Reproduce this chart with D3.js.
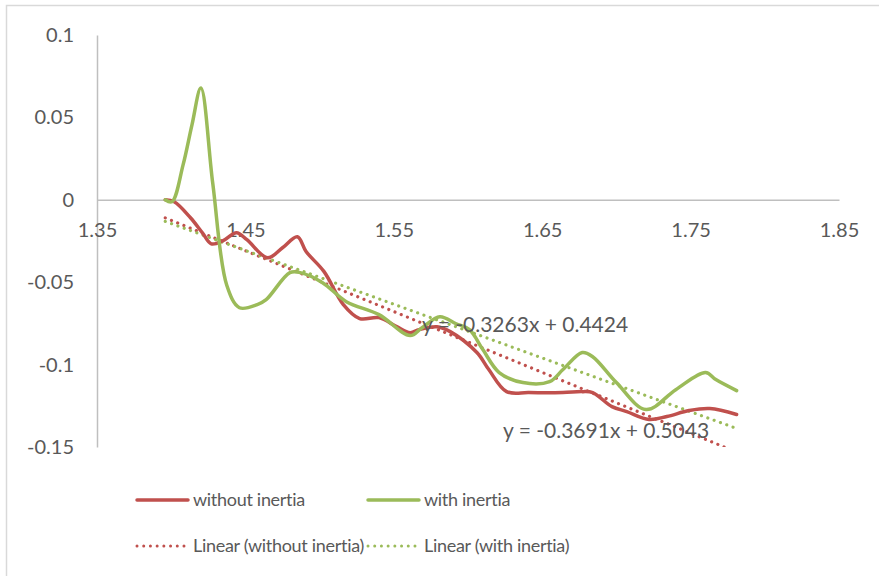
<!DOCTYPE html>
<html>
<head>
<meta charset="utf-8">
<script src="https://cdn.jsdelivr.net/npm/d3@7"></script>
<style>
  html, body { margin: 0; padding: 0; background: #fff; }
  svg { display: block; }
  text { font-family: Lato, "Open Sans", sans-serif; fill: #595959; font-variant-ligatures: none; font-feature-settings: "liga" 0, "clig" 0; }
</style>
</head>
<body>
<svg id="chart" width="879" height="576"></svg>
<script>
// ---- data ----
const xTicks = [1.35, 1.45, 1.55, 1.65, 1.75, 1.85];
const yTicks = [0.1, 0.05, 0, -0.05, -0.1, -0.15];
const xTickLabels = ["1.35", "1.45", "1.55", "1.65", "1.75", "1.85"];
const yTickLabels = ["0.1", "0.05", "0", "-0.05", "-0.1", "-0.15"];

const withoutX = [1.396, 1.402, 1.413, 1.421, 1.427, 1.435, 1.444, 1.451, 1.465, 1.475, 1.485, 1.491, 1.503, 1.516, 1.527, 1.540, 1.552, 1.561, 1.567, 1.579, 1.588, 1.606, 1.614, 1.626, 1.641, 1.664, 1.677, 1.684, 1.697, 1.707, 1.722, 1.734, 1.749, 1.763, 1.781];
const withoutY = [0, -0.0012, -0.0109, -0.020, -0.0267, -0.0248, -0.020, -0.0242, -0.0352, -0.0291, -0.0224, -0.0315, -0.0436, -0.0636, -0.0721, -0.0715, -0.077, -0.0806, -0.0788, -0.077, -0.080, -0.0927, -0.103, -0.1164, -0.117, -0.117, -0.1164, -0.117, -0.1255, -0.1285, -0.1333, -0.1315, -0.1279, -0.1267, -0.1303];

const withX = [1.396, 1.4005, 1.408, 1.414, 1.420, 1.428, 1.4375, 1.446, 1.458, 1.464, 1.480, 1.487, 1.502, 1.518, 1.540, 1.561, 1.569, 1.581, 1.592, 1.601, 1.610, 1.621, 1.637, 1.655, 1.664, 1.677, 1.684, 1.700, 1.720, 1.740, 1.760, 1.767, 1.781];
const withY = [0, -0.0012, 0.0212, 0.0455, 0.0678, 0.010, -0.052, -0.0655, -0.0636, -0.0606, -0.0442, -0.0442, -0.0503, -0.0618, -0.0697, -0.0824, -0.0776, -0.0709, -0.0752, -0.0788, -0.0909, -0.1048, -0.1109, -0.1103, -0.103, -0.0927, -0.0952, -0.1109, -0.1273, -0.1152, -0.1048, -0.1091, -0.1158];

const trendWithout = { slope: -0.3691, intercept: 0.5043 };
const trendWith = { slope: -0.3263, intercept: 0.4424 };
const seriesNames = ["without inertia", "with inertia", "Linear (without inertia)", "Linear (with inertia)"];
const colors = { red: "#C0504D", green: "#9BBB59" };

// ---- chart ----
const svg = d3.select("#chart");
const plot = { left: 97, right: 839, top: 35, bottom: 447 };

// outer chart border (only top-left visible in the reference crop)
svg.append("rect").attr("x", 6.5).attr("y", 5.5).attr("width", 1000).attr("height", 1000)
  .attr("fill", "none").attr("stroke", "#D9D9D9").attr("stroke-width", 1.5);

const x = d3.scaleLinear().domain([1.35, 1.85]).range([plot.left, plot.right]);
const y = d3.scaleLinear().domain([-0.15, 0.1]).range([plot.bottom, plot.top]);

svg.append("defs").append("clipPath").attr("id", "clip")
  .append("rect").attr("x", plot.left).attr("y", plot.top)
  .attr("width", plot.right - plot.left).attr("height", plot.bottom - plot.top);

// y axis
const yAxis = d3.axisLeft(y).tickValues(yTicks).tickSize(0).tickPadding(23)
  .tickFormat((d, i) => yTickLabels[i]);
const gy = svg.append("g").attr("transform", `translate(${plot.left},0)`).call(yAxis);
gy.select(".domain").attr("stroke", "#BFBFBF").attr("stroke-width", 1.5);
gy.selectAll("text").style("font-size", "20px").attr("fill", "#595959")
  .style("font-family", "Lato, sans-serif");

// x axis at y = 0
const xAxis = d3.axisBottom(x).tickValues(xTicks).tickSize(0).tickPadding(23)
  .tickFormat((d, i) => xTickLabels[i]);
const gx = svg.append("g").attr("transform", `translate(0,${y(0)})`).call(xAxis);
gx.select(".domain").attr("stroke", "#BFBFBF").attr("stroke-width", 1.5);
gx.selectAll("text").style("font-size", "20px").attr("fill", "#595959")
  .style("font-family", "Lato, sans-serif");

const line = d3.line().x(d => x(d[0])).y(d => y(d[1])).curve(d3.curveCatmullRom.alpha(0.5));
const plotG = svg.append("g").attr("clip-path", "url(#clip)");

function trendPts(xs, t) {
  const [a, b] = d3.extent(xs);
  return [[a, t.slope * a + t.intercept], [b, t.slope * b + t.intercept]];
}

// trendlines (dotted)
plotG.append("path").datum(trendPts(withoutX, trendWithout)).attr("d", d3.line().x(d => x(d[0])).y(d => y(d[1])))
  .attr("fill", "none").attr("stroke", colors.red).attr("stroke-width", 3.2)
  .attr("stroke-linecap", "round").attr("stroke-dasharray", "0.01 6.7");
plotG.append("path").datum(trendPts(withX, trendWith)).attr("d", d3.line().x(d => x(d[0])).y(d => y(d[1])))
  .attr("fill", "none").attr("stroke", colors.green).attr("stroke-width", 3.2)
  .attr("stroke-linecap", "round").attr("stroke-dasharray", "0.01 6.7");

// series lines
plotG.append("path").datum(withoutX.map((v, i) => [v, withoutY[i]])).attr("d", line)
  .attr("fill", "none").attr("stroke", colors.red).attr("stroke-width", 3.5)
  .attr("stroke-linejoin", "round").attr("stroke-linecap", "round");
plotG.append("path").datum(withX.map((v, i) => [v, withY[i]])).attr("d", line)
  .attr("fill", "none").attr("stroke", colors.green).attr("stroke-width", 3.5)
  .attr("stroke-linejoin", "round").attr("stroke-linecap", "round");

// trendline equations
function eq(t) {
  return `y = ${t.slope.toFixed(4)}x + ${t.intercept.toFixed(4)}`;
}
svg.append("text").attr("x", 422).attr("y", 332).style("font-size", "21px").text(eq(trendWith));
svg.append("text").attr("x", 503).attr("y", 438).style("font-size", "21px").text(eq(trendWithout));

// legend
const legendItems = [
  { name: seriesNames[0], color: colors.red, dotted: false, lx: 136, ly: 500 },
  { name: seriesNames[1], color: colors.green, dotted: false, lx: 367, ly: 500 },
  { name: seriesNames[2], color: colors.red, dotted: true, lx: 136, ly: 546 },
  { name: seriesNames[3], color: colors.green, dotted: true, lx: 367, ly: 546 }
];
const lg = svg.append("g");
legendItems.forEach(it => {
  const l = lg.append("line").attr("x1", it.lx + 1).attr("x2", it.lx + 52)
    .attr("y1", it.ly).attr("y2", it.ly).attr("stroke", it.color);
  if (it.dotted) {
    l.attr("stroke-width", 3).attr("stroke-linecap", "round").attr("stroke-dasharray", "0.01 6.7");
  } else {
    l.attr("stroke-width", 3.5).attr("stroke-linecap", "round");
  }
  lg.append("text").attr("x", it.lx + 57).attr("y", it.ly).attr("dy", "0.35em")
    .style("font-size", "18px").style("letter-spacing", "-0.3px").text(it.name);
});
</script>
</body>
</html>
